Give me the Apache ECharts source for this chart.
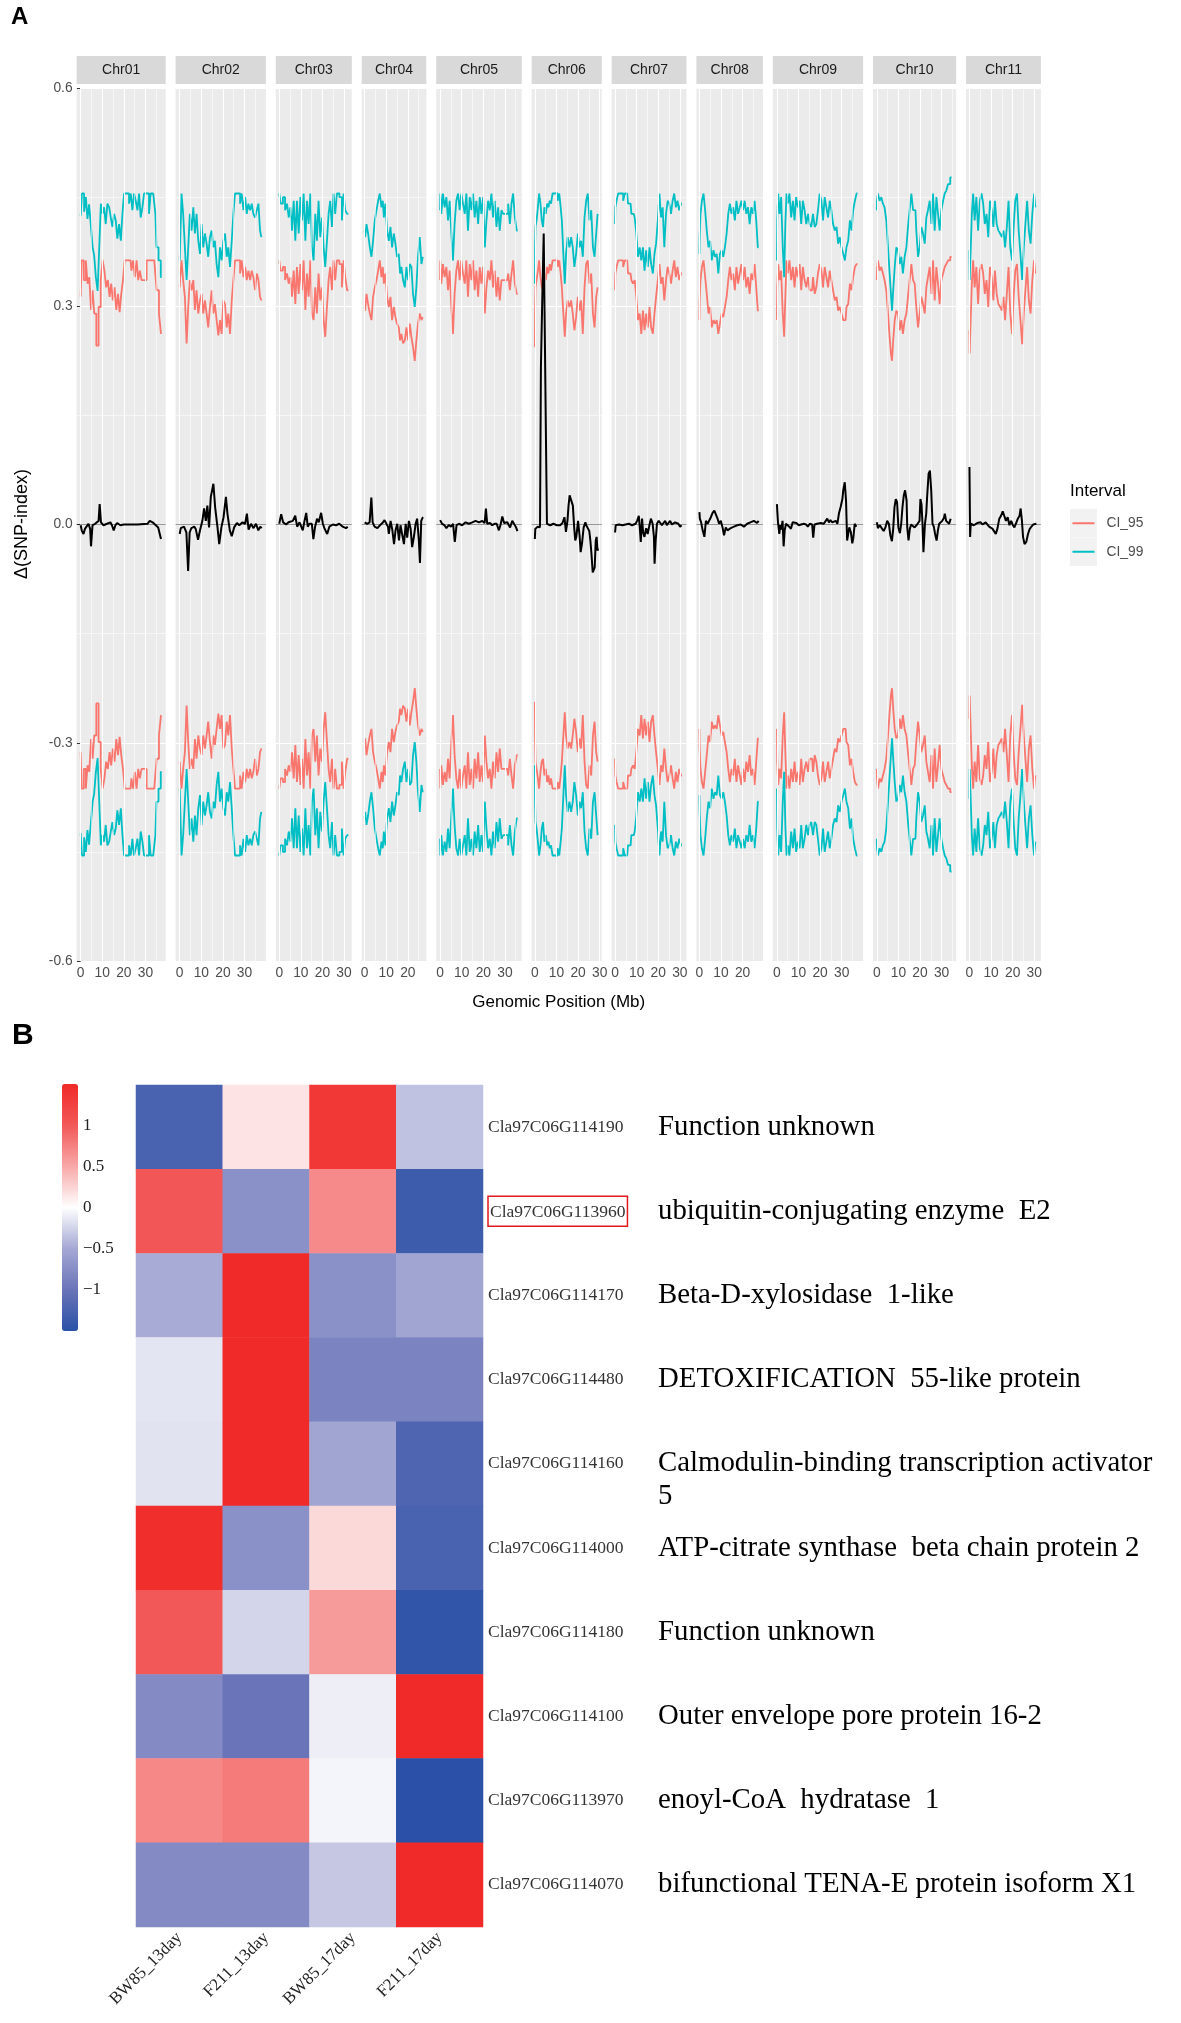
<!DOCTYPE html>
<html><head><meta charset="utf-8">
<script src="https://cdn.jsdelivr.net/npm/echarts@6/dist/echarts.min.js"></script>
<style>html,body{margin:0;padding:0;background:#fff}#c{width:1181px;height:2023px}</style>
</head><body><div id="c"></div><script>
// ---------------- Panel A data ----------------
const chrNames = ['Chr01','Chr02','Chr03','Chr04','Chr05','Chr06','Chr07','Chr08','Chr09','Chr10','Chr11'];
const chrLengths = [37.5,38,32,27.2,36,29.5,31.5,28,38,35,31.5];
const xMajorTicks = [0,10,20,30];
const xMinorTicks = [5,15,25,35];
const intervalNames = ['CI_95','CI_99'];

const deltaChr01 = [[0,-0.001],[0.5,-0.008],[1.3,-0.013],[2,-0.006],[2.8,-0.004],[3.6,0.001],[4.4,-0.006],[4.8,-0.03],[5.5,-0.001],[6.7,0.001],[7.5,0.003],[8.3,0.005],[8.8,0.028],[9.4,0.003],[10.6,-0.001],[12.2,0.001],[13.8,0.003],[14.5,-0.001],[15.3,-0.008],[16.1,-0.001],[16.9,0.002],[18.4,-0.001],[20,0],[26.3,0],[30.9,0.001],[32,0.005],[33.3,0.003],[34.8,-0.001],[35.9,-0.004],[37.2,-0.02]];
const deltaChr02 = [[0,-0.013],[0.5,-0.005],[2,-0.003],[3.1,-0.011],[3.9,-0.064],[4.6,-0.011],[5.4,-0.005],[6.7,-0.003],[7.4,-0.006],[8.5,-0.021],[9.4,-0.008],[10.5,0.005],[11.3,0.022],[12.1,0.005],[12.8,0.026],[13.6,-0.004],[14.4,0.038],[15.6,0.056],[16.4,0.024],[17.5,-0.004],[18.3,-0.027],[19.3,-0.004],[20.3,0.01],[21.4,0.038],[22.1,0.015],[23.2,-0.008],[24.1,-0.016],[25.2,-0.004],[26.5,0.002],[27.6,-0.001],[29.1,0.003],[30.3,0.001],[31.1,0.015],[31.9,-0.007],[33,0.001],[34.2,-0.005],[35.3,0.001],[36.4,-0.008],[37.3,-0.003],[38,-0.005]];
const deltaChr03 = [[0,0.001],[0.9,0.014],[1.8,0.003],[3.2,0],[4.3,0.003],[5.2,0.001],[6.3,0.005],[7.4,0.012],[8.3,-0.003],[9.4,0.003],[10.2,0.001],[10.9,-0.008],[11.7,0.005],[12.5,0.016],[13.2,-0.003],[14,0.001],[15.1,0.001],[15.8,-0.02],[16.6,-0.003],[17.5,0.008],[18.3,0.003],[19.4,0.016],[20.2,0.001],[20.9,-0.005],[22.2,-0.013],[23.2,-0.003],[24.8,0],[26.3,-0.001],[27.8,0.001],[29.4,-0.003],[30.9,-0.005],[31.7,-0.003]];
const deltaChr04 = [[0,0.003],[1.2,0.001],[2.3,0.003],[3.1,0.037],[3.7,0.003],[4.6,-0.003],[5.9,-0.005],[7.1,-0.001],[8.2,0.002],[9.2,0.006],[10,0.008],[10.8,-0.003],[11.2,-0.013],[12,0.005],[12.8,-0.007],[13.6,-0.027],[14.3,-0.008],[15.1,0.001],[15.9,-0.022],[16.6,-0.001],[17.4,-0.003],[18.2,-0.027],[19,0.001],[19.7,-0.018],[20.5,0.005],[21.3,-0.006],[22,-0.031],[22.8,-0.017],[23.6,0.001],[24.3,0.008],[25.1,-0.022],[25.6,-0.053],[26.2,0.005],[26.8,0.009],[27.1,0.01]];
const deltaChr05 = [[0,0.006],[0.9,0.001],[2,-0.001],[2.9,-0.005],[4,-0.001],[5.1,-0.003],[6,0.001],[6.8,-0.024],[7.6,-0.001],[8.7,0.001],[10.2,-0.001],[11.8,0.003],[13.3,0.001],[14.9,0.003],[16.4,0.005],[18,0.003],[19.5,0.005],[20.6,0.002],[21.2,0.022],[21.8,0.001],[23.1,0.002],[24.1,-0.001],[25.2,0.001],[26.2,0.001],[27.2,-0.008],[28,0],[28.8,0.011],[29.6,0.002],[31.1,0.003],[32.4,-0.004],[33.4,0.005],[34.2,0.003],[35,-0.003],[35.8,-0.009]];
const deltaChr06 = [[0,-0.02],[0.2,-0.006],[0.4,-0.007],[1.3,-0.003],[2.3,-0.004],[2.4,0],[2.8,0.215],[3.3,0.29],[4.1,0.4],[4.7,0.4],[5.4,0.05],[5.6,0.001],[6,0.001],[7.1,-0.001],[8.6,0.001],[10.2,-0.001],[11.7,-0.001],[12.8,0.002],[13.7,0.01],[14.4,-0.01],[15.1,0.005],[15.6,0.026],[16.1,0.04],[16.8,0.039],[17.6,0.026],[18.2,-0.004],[18.7,-0.022],[19.2,-0.017],[20,0.005],[20.7,-0.015],[21.2,-0.038],[21.8,-0.027],[22.6,-0.004],[23.4,0.003],[23.8,-0.001],[24.5,-0.005],[25.2,-0.009],[25.7,-0.022],[26.2,-0.04],[26.8,-0.066],[27.3,-0.068],[27.7,-0.059],[28.2,-0.022],[28.6,-0.017],[29,-0.036],[29.3,-0.033]];
const deltaChr07 = [[0,-0.011],[0.3,-0.001],[1.8,0],[3.4,-0.001],[4.9,0],[6.4,0.001],[7.9,-0.001],[9.5,0.001],[10.2,0.005],[11,0.012],[11.5,-0.006],[11.9,-0.024],[12.5,0.008],[13,-0.011],[13.6,-0.017],[14.4,-0.005],[15.1,-0.013],[15.9,-0.001],[16.6,0.008],[17.4,0.001],[18,-0.017],[18.3,-0.054],[18.8,-0.022],[19.4,0.001],[20.2,0.005],[20.9,0.006],[21.7,-0.001],[22.4,0.002],[23.2,0.005],[24,-0.001],[24.7,0.002],[25.5,0.005],[26.3,0],[27,0.001],[27.8,0.003],[28.5,0.004],[29.3,0.001],[30.1,-0.003],[30.8,-0.001]];
const deltaChr08 = [[0,0.017],[0.2,0.008],[0.8,0.003],[1.5,-0.008],[2.3,-0.017],[3,0.005],[3.8,0.001],[4.6,0.003],[5.3,0.01],[6.1,0.016],[6.9,0.019],[7.6,0.017],[8.4,0.008],[9.1,0.001],[9.9,0.005],[10.7,-0.004],[11.4,-0.015],[12.2,-0.004],[13,-0.008],[13.7,-0.006],[14.5,-0.005],[16,-0.003],[17.5,-0.001],[19.1,0],[20.6,-0.003],[22.1,0.001],[23.6,0.003],[25.2,0.005],[26.7,0.002],[27.4,0.005]];
const deltaChr09 = [[0,0.028],[0.2,0.017],[0.5,0.003],[1.1,-0.013],[1.6,-0.001],[2,-0.007],[2.6,0.005],[3.1,-0.03],[3.6,-0.008],[4.2,0.001],[5,0.003],[5.7,-0.003],[6.5,-0.006],[7.3,0.003],[8.1,0.001],[9,0.002],[10.1,-0.001],[11.2,0],[12.4,0.001],[13.5,0],[14.3,-0.003],[15.2,0.001],[16.3,0],[16.8,-0.018],[17.4,0],[18.6,0.001],[20.2,0.002],[21.7,0.001],[22.5,0.003],[23.3,0.008],[24.1,0.003],[24.8,0.006],[25.6,0.003],[26.4,0.001],[27.2,0.005],[28,0.001],[28.7,0.015],[29.5,0.024],[30.3,0.035],[30.7,0.047],[31.4,0.058],[32,0.033],[32.5,-0.022],[32.9,-0.015],[33.5,-0.004],[34.2,-0.01],[34.9,-0.026],[35.4,-0.018],[36,0.001],[36.8,-0.003]];
const deltaChr10 = [[0,0.003],[0.3,-0.001],[0.5,-0.005],[1.4,-0.001],[2.5,-0.006],[3.2,-0.009],[4,-0.004],[4.8,0.005],[5.6,0.001],[6.3,-0.015],[7,-0.023],[7.6,-0.006],[8.2,0.024],[8.8,0.035],[9.4,0.031],[10,-0.004],[10.7,-0.012],[11.3,0.001],[11.9,0.024],[12.5,0.04],[13.1,0.047],[13.8,0.033],[14.1,-0.004],[14.7,-0.022],[15.3,-0.006],[15.9,0],[16.8,-0.001],[17.5,-0.004],[18.4,-0.001],[19.2,0.001],[19.8,0.005],[20.2,0.035],[20.7,0.028],[21.2,-0.001],[21.6,-0.038],[22.3,0.001],[22.9,0.015],[23.3,0.038],[24,0.07],[24.6,0.074],[25.2,0.047],[25.8,0.001],[26.4,-0.003],[27,-0.013],[27.7,-0.022],[28.3,-0.008],[28.9,0.001],[29.5,0.002],[30.3,0.005],[31.1,0.009],[31.5,0.015],[32.1,0.005],[32.9,0.003],[33.5,0.001],[34.2,0.008]];
const deltaChr11 = [[0,0.079],[0.1,0.048],[0.2,0.047],[0.3,-0.017],[0.6,0.001],[1.3,0.003],[2,-0.001],[2.8,0.001],[3.6,0.002],[4.4,0],[5.2,0.003],[6,0],[6.7,0.002],[7.5,0.003],[8.3,0.005],[9.1,-0.003],[9.9,-0.005],[10.7,-0.006],[11.4,-0.008],[12.2,-0.013],[13,-0.005],[13.8,0.008],[14.6,0.012],[15.4,0.018],[16.1,0.012],[16.9,0.005],[17.7,0.01],[18.5,-0.001],[19.3,0.005],[20.1,-0.001],[20.8,-0.004],[21.6,0.002],[22.4,0.008],[23.2,0.012],[23.7,0.022],[24.3,0.005],[24.8,-0.017],[25.5,-0.027],[26.3,-0.024],[27.1,-0.013],[27.9,-0.006],[28.7,-0.003],[29.5,0],[30.3,-0.001],[31,0.001]];

const ci95Chr01 = [[0,0.313],[0.9,0.363],[2,0.336],[2.8,0.363],[3.6,0.331],[4.4,0.34],[5.2,0.295],[5.9,0.322],[6.7,0.29],[7.8,0.246],[8.8,0.299],[9.8,0.336],[10.6,0.363],[11.4,0.349],[12.2,0.326],[13,0.336],[13.8,0.313],[14.5,0.331],[15.3,0.308],[16.1,0.326],[16.9,0.295],[17.7,0.317],[18.4,0.292],[19.2,0.317],[20,0.336],[20.8,0.363],[23.1,0.363],[23.9,0.349],[24.7,0.363],[25.5,0.34],[26.3,0.363],[27,0.336],[27.8,0.349],[28.6,0.336],[30.2,0.336],[30.9,0.363],[34.1,0.363],[34.8,0.349],[35.6,0.322],[36.9,0.29],[37.5,0.262]];
const ci95Chr02 = [[0,0.326],[0.5,0.34],[1.2,0.363],[2,0.336],[2.8,0.313],[3.6,0.249],[4.3,0.299],[5.1,0.336],[5.9,0.322],[6.7,0.336],[7.4,0.295],[8.2,0.322],[9,0.29],[9.8,0.308],[10.5,0.317],[11.3,0.29],[12.1,0.308],[12.8,0.29],[13.6,0.271],[14.4,0.299],[15.2,0.322],[15.9,0.29],[16.7,0.303],[17.5,0.281],[18.3,0.26],[19,0.281],[19.8,0.262],[20.6,0.308],[21.4,0.303],[22.1,0.271],[22.9,0.29],[23.7,0.262],[24.5,0.308],[25.2,0.336],[26,0.363],[27.6,0.363],[28.3,0.345],[29.1,0.363],[29.9,0.34],[30.7,0.354],[31.4,0.336],[32.2,0.349],[33,0.336],[33.7,0.349],[34.5,0.34],[35.3,0.322],[36.1,0.345],[36.8,0.336],[37.6,0.313],[38,0.308]];
const ci95Chr03 = [[0,0.363],[1.2,0.349],[2.2,0.354],[3.2,0.336],[4,0.345],[4.8,0.331],[5.5,0.34],[6.3,0.313],[7.1,0.349],[7.8,0.303],[8.6,0.354],[9.4,0.317],[10.2,0.358],[10.9,0.322],[11.7,0.363],[12.5,0.295],[13.2,0.345],[14,0.313],[14.8,0.363],[15.5,0.29],[16.3,0.281],[17.1,0.326],[17.8,0.29],[18.6,0.345],[19.4,0.308],[20.2,0.326],[20.9,0.281],[21.7,0.258],[22.5,0.299],[23.2,0.336],[24,0.354],[24.8,0.322],[25.5,0.363],[26.3,0.336],[27.1,0.363],[28.6,0.358],[29.4,0.326],[30.2,0.363],[30.9,0.34],[32,0.322]];
const ci95Chr04 = [[0,0.299],[0.5,0.294],[1.2,0.317],[2,0.303],[2.8,0.29],[3.5,0.281],[4.3,0.313],[5.1,0.326],[5.9,0.336],[6.6,0.349],[7.4,0.363],[8.2,0.34],[8.6,0.354],[9.2,0.331],[10,0.345],[10.8,0.313],[11.6,0.299],[12.3,0.313],[13.1,0.281],[13.9,0.299],[14.6,0.285],[15.4,0.276],[16.2,0.271],[16.6,0.253],[17.4,0.262],[18.2,0.249],[19,0.253],[19.7,0.271],[20.5,0.253],[21.3,0.276],[22,0.258],[22.8,0.244],[23.6,0.225],[24.3,0.253],[25.1,0.276],[25.9,0.29],[26.7,0.281],[27.1,0.285]];
const ci95Chr05 = [[0,0.336],[0.2,0.363],[0.9,0.331],[1.7,0.358],[2.5,0.34],[3.3,0.354],[4,0.322],[4.8,0.349],[5.6,0.299],[6.3,0.262],[7.1,0.317],[7.9,0.349],[8.7,0.363],[9.4,0.336],[10.2,0.363],[11,0.345],[11.8,0.331],[12.5,0.363],[13.3,0.313],[14.1,0.358],[14.9,0.336],[15.6,0.363],[16.4,0.322],[17.2,0.349],[18,0.313],[18.7,0.354],[19.5,0.331],[20.3,0.354],[21.1,0.29],[21.8,0.326],[22.6,0.349],[23.4,0.336],[24.1,0.363],[24.9,0.326],[25.7,0.349],[26.5,0.313],[27.2,0.34],[28,0.308],[28.8,0.336],[29.6,0.336],[31.1,0.336],[31.9,0.345],[32.7,0.322],[33.4,0.345],[34.2,0.363],[35,0.331],[35.9,0.317]];
const ci95Chr06 = [[0,0.244],[0.2,0.29],[0.4,0.326],[1.2,0.336],[1.6,0.349],[2.3,0.363],[2.9,0.34],[3.5,0.326],[4.1,0.322],[4.7,0.345],[5.4,0.336],[6,0.354],[6.6,0.345],[7.2,0.358],[7.8,0.349],[8.6,0.363],[10.2,0.363],[10.9,0.354],[11.7,0.363],[12.2,0.345],[12.8,0.326],[13.6,0.29],[14.1,0.258],[14.8,0.29],[15.6,0.308],[16.4,0.299],[17.2,0.308],[17.9,0.29],[18.7,0.267],[19.5,0.285],[20.3,0.313],[21,0.294],[21.8,0.308],[22.6,0.262],[23.4,0.326],[24.1,0.358],[24.9,0.363],[25.7,0.331],[26.5,0.345],[27.3,0.29],[28,0.271],[28.8,0.313],[29.3,0.326]];
const ci95Chr07 = [[0,0.322],[0.3,0.345],[1.1,0.354],[1.8,0.363],[3.4,0.363],[4.1,0.354],[4.9,0.363],[5.6,0.363],[6.4,0.345],[7.2,0.345],[7.9,0.336],[8.7,0.331],[9.5,0.336],[10.2,0.313],[11,0.281],[11.8,0.29],[12.5,0.262],[13.3,0.294],[14,0.267],[14.8,0.29],[15.6,0.271],[16.3,0.299],[17.1,0.271],[17.9,0.262],[18.6,0.29],[19.4,0.313],[20.2,0.336],[20.9,0.358],[21.7,0.331],[22.4,0.34],[23.2,0.308],[24,0.336],[24.7,0.354],[25.5,0.345],[26.3,0.331],[27,0.349],[27.8,0.363],[28.5,0.34],[29.3,0.354],[30.1,0.336],[31,0.345]];
const ci95Chr08 = [[0,0.281],[0.2,0.308],[0.8,0.336],[1.5,0.354],[2.3,0.363],[3,0.34],[3.8,0.317],[4.6,0.29],[5.3,0.299],[6.1,0.271],[6.9,0.281],[7.6,0.276],[8.4,0.281],[9.1,0.262],[9.9,0.276],[10.7,0.29],[11.4,0.285],[12.2,0.299],[13,0.313],[13.7,0.336],[14.5,0.354],[15.2,0.336],[16,0.345],[16.8,0.322],[17.5,0.354],[18.3,0.331],[19.1,0.345],[19.8,0.358],[20.6,0.336],[21.3,0.354],[22.1,0.326],[22.9,0.34],[23.6,0.317],[24.4,0.345],[25.2,0.336],[25.9,0.358],[26.7,0.326],[27.4,0.294]];
const ci95Chr09 = [[0,0.281],[0.3,0.326],[0.9,0.358],[1.6,0.336],[2.3,0.349],[3.1,0.29],[3.6,0.258],[4.2,0.313],[4.7,0.363],[5.4,0.345],[6.2,0.363],[7,0.336],[7.8,0.354],[8.5,0.326],[9.3,0.354],[10.1,0.34],[10.9,0.358],[11.6,0.322],[12.4,0.354],[13.2,0.336],[14,0.326],[14.8,0.34],[15.5,0.322],[16.3,0.322],[17.1,0.34],[17.9,0.317],[18.6,0.326],[19.4,0.345],[20.2,0.358],[21,0.349],[21.7,0.326],[22.5,0.354],[23.3,0.34],[24.1,0.326],[24.8,0.349],[25.6,0.336],[26.4,0.322],[27.2,0.308],[28,0.313],[28.7,0.294],[29.5,0.299],[30.3,0.29],[31.1,0.281],[31.8,0.281],[32.6,0.299],[33.4,0.303],[34.2,0.331],[34.9,0.322],[35.7,0.34],[36.5,0.354],[37.3,0.358]];
const ci95Chr10 = [[0,0.336],[0.2,0.349],[0.9,0.363],[1.7,0.349],[2.5,0.354],[3.2,0.345],[4,0.336],[4.8,0.322],[5.6,0.29],[6.3,0.258],[6.8,0.235],[7.3,0.225],[7.9,0.253],[8.7,0.281],[9.4,0.294],[10.2,0.29],[11,0.267],[11.7,0.281],[12.5,0.262],[13.3,0.281],[14.1,0.29],[14.8,0.313],[15.6,0.336],[16.4,0.358],[17.2,0.336],[17.9,0.331],[18.7,0.299],[19.5,0.271],[20.2,0.29],[21,0.313],[21.8,0.303],[22.6,0.29],[23.3,0.326],[24.1,0.34],[24.9,0.354],[25.7,0.317],[26.4,0.363],[27.2,0.308],[28,0.354],[28.7,0.331],[29.5,0.303],[30.3,0.336],[31.1,0.345],[31.8,0.354],[32.6,0.358],[33.4,0.363],[34.6,0.368]];
const ci95Chr11 = [[0,0.267],[0.2,0.235],[0.8,0.276],[1.4,0.331],[2,0.363],[2.8,0.326],[3.6,0.354],[4.4,0.303],[5.2,0.349],[6,0.358],[6.7,0.345],[7.5,0.317],[8.3,0.336],[9.1,0.299],[9.9,0.354],[10.7,0.34],[11.4,0.308],[12.2,0.349],[13,0.317],[13.8,0.303],[14.6,0.299],[15.4,0.294],[16.1,0.313],[16.9,0.281],[17.7,0.317],[18.5,0.354],[19.3,0.29],[20.1,0.262],[20.8,0.313],[21.6,0.349],[22.4,0.358],[23.2,0.313],[24,0.281],[24.8,0.248],[25.5,0.29],[26.3,0.322],[27.1,0.354],[27.9,0.308],[28.7,0.29],[29.5,0.336],[30.3,0.363],[30.7,0.345]];

const ci99Chr01 = [[0,0.424],[1.2,0.455],[2,0.43],[2.8,0.45],[3.5,0.42],[4.3,0.44],[5.2,0.41],[5.9,0.381],[6.6,0.37],[7.5,0.34],[8.2,0.321],[9,0.38],[9.7,0.441],[10.5,0.427],[11.2,0.436],[12,0.413],[12.8,0.441],[13.6,0.436],[14.3,0.422],[15.1,0.409],[15.9,0.427],[16.6,0.418],[17.4,0.393],[18.2,0.413],[19,0.39],[19.7,0.427],[20.5,0.455],[22,0.455],[22.8,0.441],[23.6,0.455],[24.3,0.432],[25.1,0.455],[25.9,0.445],[26.7,0.432],[27.4,0.455],[28.2,0.422],[29,0.436],[29.7,0.455],[31.3,0.455],[32,0.427],[32.8,0.455],[34.4,0.455],[34.8,0.427],[35.4,0.381],[36.7,0.363],[37.5,0.34]];
const ci99Chr02 = [[0,0.363],[0.5,0.39],[1.2,0.455],[2,0.427],[2.8,0.381],[3.6,0.336],[4.3,0.381],[5.1,0.427],[5.9,0.404],[6.7,0.436],[7.4,0.4],[8.2,0.427],[9,0.39],[9.8,0.372],[10.5,0.413],[11.3,0.381],[12.1,0.4],[12.8,0.386],[13.6,0.368],[14.4,0.395],[15.2,0.404],[15.9,0.381],[16.7,0.39],[17.5,0.358],[18.3,0.34],[19,0.381],[19.8,0.363],[20.6,0.39],[21.4,0.4],[22.1,0.368],[22.9,0.381],[23.7,0.354],[24.5,0.39],[25.2,0.427],[26,0.455],[27.6,0.455],[28.3,0.441],[29.1,0.455],[29.9,0.432],[30.7,0.45],[31.4,0.427],[32.2,0.441],[33,0.432],[33.7,0.441],[34.5,0.427],[35.3,0.422],[36.1,0.432],[36.8,0.441],[37.6,0.404],[38,0.395]];
const ci99Chr03 = [[0,0.455],[1.2,0.441],[2.2,0.45],[3.2,0.432],[4,0.441],[4.8,0.422],[5.5,0.436],[6.3,0.404],[7.1,0.445],[7.8,0.39],[8.6,0.445],[9.4,0.4],[10.2,0.45],[10.9,0.418],[11.7,0.455],[12.5,0.39],[13.2,0.445],[14,0.413],[14.8,0.455],[15.5,0.381],[16.3,0.363],[17.1,0.427],[17.8,0.39],[18.6,0.445],[19.4,0.395],[20.2,0.422],[20.9,0.381],[21.7,0.354],[22.5,0.39],[23.2,0.427],[24,0.445],[24.8,0.409],[25.5,0.455],[26.3,0.427],[27.1,0.455],[28.6,0.45],[29.4,0.418],[30.2,0.455],[30.9,0.432],[32,0.427]];
const ci99Chr04 = [[0,0.404],[0.5,0.395],[1.2,0.413],[2,0.4],[2.8,0.381],[3.5,0.368],[4.3,0.39],[5.1,0.418],[5.9,0.432],[6.6,0.445],[7.4,0.455],[8.2,0.436],[8.6,0.445],[9.2,0.422],[10,0.441],[10.8,0.404],[11.6,0.39],[12.3,0.409],[13.1,0.381],[13.9,0.4],[14.6,0.386],[15.4,0.368],[16.2,0.372],[16.6,0.345],[17.4,0.354],[18.2,0.336],[19,0.326],[19.7,0.354],[20.5,0.336],[21.3,0.358],[22,0.354],[22.8,0.317],[23.6,0.299],[24.3,0.326],[25.1,0.368],[25.9,0.395],[26.7,0.358],[27.1,0.368]];
const ci99Chr05 = [[0,0.432],[0.2,0.455],[0.9,0.427],[1.7,0.455],[2.5,0.436],[3.3,0.45],[4,0.418],[4.8,0.445],[5.6,0.4],[6.3,0.363],[7.1,0.413],[7.9,0.445],[8.7,0.455],[9.4,0.432],[10.2,0.455],[11,0.441],[11.8,0.427],[12.5,0.455],[13.3,0.404],[14.1,0.45],[14.9,0.432],[15.6,0.455],[16.4,0.422],[17.2,0.445],[18,0.413],[18.7,0.45],[19.5,0.427],[20.3,0.45],[21.1,0.381],[21.8,0.418],[22.6,0.445],[23.4,0.432],[24.1,0.455],[24.9,0.422],[25.7,0.445],[26.5,0.409],[27.2,0.436],[28,0.404],[28.8,0.432],[29.6,0.427],[31.1,0.427],[31.9,0.441],[32.7,0.413],[33.4,0.441],[34.2,0.455],[35,0.422],[35.9,0.404]];
const ci99Chr06 = [[0,0.331],[0.2,0.381],[0.4,0.409],[1.2,0.418],[1.6,0.436],[2.3,0.455],[2.9,0.441],[3.5,0.418],[4.1,0.409],[4.7,0.436],[5.4,0.427],[6,0.441],[6.6,0.436],[7.2,0.445],[7.8,0.441],[8.6,0.455],[10.2,0.455],[10.9,0.445],[11.7,0.455],[12.2,0.436],[12.8,0.418],[13.6,0.372],[14.1,0.331],[14.8,0.372],[15.6,0.395],[16.4,0.381],[17.2,0.395],[17.9,0.381],[18.7,0.354],[19.5,0.372],[20.3,0.4],[21,0.381],[21.8,0.39],[22.6,0.368],[23.4,0.422],[24.1,0.445],[24.9,0.455],[25.7,0.418],[26.5,0.432],[27.3,0.381],[28,0.368],[28.8,0.4],[29.3,0.427]];
const ci99Chr07 = [[0,0.413],[0.3,0.436],[1.1,0.445],[1.8,0.455],[3.4,0.455],[4.1,0.445],[4.9,0.455],[5.6,0.455],[6.4,0.441],[7.2,0.441],[7.9,0.427],[8.7,0.427],[9.5,0.422],[10.2,0.4],[11,0.368],[11.8,0.381],[12.5,0.363],[13.3,0.381],[14,0.349],[14.8,0.377],[15.6,0.354],[16.3,0.381],[17.1,0.358],[17.9,0.345],[18.6,0.372],[19.4,0.386],[20.2,0.418],[20.9,0.455],[21.7,0.422],[22.4,0.436],[23.2,0.381],[24,0.427],[24.7,0.445],[25.5,0.441],[26.3,0.427],[27,0.445],[27.8,0.455],[28.5,0.436],[29.3,0.445],[30.1,0.432],[31,0.441]];
const ci99Chr08 = [[0,0.372],[0.2,0.395],[0.8,0.427],[1.5,0.445],[2.3,0.455],[3,0.432],[3.8,0.404],[4.6,0.381],[5.3,0.39],[6.1,0.363],[6.9,0.377],[7.6,0.368],[8.4,0.372],[9.1,0.345],[9.9,0.372],[10.7,0.377],[11.4,0.368],[12.2,0.381],[13,0.4],[13.7,0.427],[14.5,0.441],[15.2,0.427],[16,0.436],[16.8,0.418],[17.5,0.445],[18.3,0.427],[19.1,0.436],[19.8,0.445],[20.6,0.432],[21.3,0.445],[22.1,0.427],[22.9,0.436],[23.6,0.413],[24.4,0.436],[25.2,0.427],[25.9,0.445],[26.7,0.418],[27.4,0.381]];
const ci99Chr09 = [[0,0.363],[0.3,0.418],[0.9,0.455],[1.6,0.427],[2.3,0.45],[3.1,0.381],[3.6,0.34],[4.2,0.413],[4.7,0.455],[5.4,0.441],[6.2,0.455],[7,0.422],[7.8,0.445],[8.5,0.418],[9.3,0.45],[10.1,0.436],[10.9,0.445],[11.6,0.413],[12.4,0.445],[13.2,0.432],[14,0.413],[14.8,0.427],[15.5,0.413],[16.3,0.409],[17.1,0.427],[17.9,0.409],[18.6,0.413],[19.4,0.432],[20.2,0.455],[21,0.445],[21.7,0.418],[22.5,0.45],[23.3,0.436],[24.1,0.422],[24.8,0.445],[25.6,0.432],[26.4,0.413],[27.2,0.404],[28,0.409],[28.7,0.386],[29.5,0.395],[30.3,0.381],[31.1,0.372],[31.8,0.363],[32.6,0.381],[33.4,0.39],[34.2,0.418],[34.9,0.404],[35.7,0.432],[36.5,0.445],[37.3,0.455]];
const ci99Chr10 = [[0,0.432],[0.2,0.445],[0.9,0.455],[1.7,0.445],[2.5,0.45],[3.2,0.441],[4,0.436],[4.8,0.418],[5.6,0.381],[6.3,0.345],[6.8,0.317],[7.3,0.294],[7.9,0.322],[8.7,0.354],[9.4,0.381],[10.2,0.377],[11,0.358],[11.7,0.368],[12.5,0.345],[13.3,0.368],[14.1,0.381],[14.8,0.409],[15.6,0.432],[16.4,0.455],[17.2,0.432],[17.9,0.432],[18.7,0.404],[19.5,0.368],[20.2,0.381],[21,0.409],[21.8,0.4],[22.6,0.386],[23.3,0.422],[24.1,0.432],[24.9,0.445],[25.7,0.413],[26.4,0.455],[27.2,0.404],[28,0.45],[28.7,0.427],[29.5,0.404],[30.3,0.432],[31.1,0.445],[31.8,0.455],[32.6,0.459],[33.4,0.468],[34.6,0.477]];
const ci99Chr11 = [[0,0.377],[0.2,0.336],[0.8,0.372],[1.4,0.427],[2,0.455],[2.8,0.418],[3.6,0.45],[4.4,0.404],[5.2,0.445],[6,0.455],[6.7,0.441],[7.5,0.413],[8.3,0.427],[9.1,0.395],[9.9,0.445],[10.7,0.432],[11.4,0.409],[12.2,0.445],[13,0.413],[13.8,0.404],[14.6,0.4],[15.4,0.395],[16.1,0.404],[16.9,0.381],[17.7,0.409],[18.5,0.445],[19.3,0.381],[20.1,0.363],[20.8,0.409],[21.6,0.445],[22.4,0.455],[23.2,0.404],[24,0.372],[24.8,0.336],[25.5,0.381],[26.3,0.413],[27.1,0.445],[27.9,0.404],[28.7,0.386],[29.5,0.427],[30.3,0.455],[30.7,0.436]];

// ---------------- Panel B data ----------------
const hmColumns = ['BW85_13day','F211_13day','BW85_17day','F211_17day'];
const hmGenes = ['Cla97C06G114190','Cla97C06G113960','Cla97C06G114170','Cla97C06G114480','Cla97C06G114160','Cla97C06G114000','Cla97C06G114180','Cla97C06G114100','Cla97C06G113970','Cla97C06G114070'];
const hmFunctions = ['Function unknown','ubiquitin-conjugating enzyme  E2','Beta-D-xylosidase  1-like','DETOXIFICATION  55-like protein','Calmodulin-binding transcription activator\n5','ATP-citrate synthase  beta chain protein 2','Function unknown','Outer envelope pore protein 16-2','enoyl-CoA  hydratase  1','bifunctional TENA-E protein isoform X1'];
const hmValues = [
  [-1.25, 0.16, 1.35, -0.35],
  [1.02, -0.72, 0.69, -1.35],
  [-0.48, 1.5, -0.72, -0.53],
  [-0.15, 1.5, -0.85, -0.85],
  [-0.16, 1.5, -0.53, -1.21],
  [1.45, -0.72, 0.22, -1.25],
  [1.0, -0.24, 0.59, -1.45],
  [-0.78, -1.0, -0.1, 1.5],
  [0.7, 0.79, -0.06, -1.5],
  [-0.78, -0.78, -0.32, 1.5]
];
const highlightedGene = 'Cla97C06G113960';
const colorbarTicks = [-1, -0.5, 0, 0.5, 1];

// ---------------- build ----------------
const SANS = '"Liberation Sans", Arial, Helvetica, sans-serif';
const SERIF = '"Liberation Serif", "Times New Roman", Times, serif';
const deltaByChr = [deltaChr01,deltaChr02,deltaChr03,deltaChr04,deltaChr05,deltaChr06,deltaChr07,deltaChr08,deltaChr09,deltaChr10,deltaChr11];
const ci95ByChr = [ci95Chr01,ci95Chr02,ci95Chr03,ci95Chr04,ci95Chr05,ci95Chr06,ci95Chr07,ci95Chr08,ci95Chr09,ci95Chr10,ci95Chr11];
const ci99ByChr = [ci99Chr01,ci99Chr02,ci99Chr03,ci99Chr04,ci99Chr05,ci99Chr06,ci99Chr07,ci99Chr08,ci99Chr09,ci99Chr10,ci99Chr11];

const panelLeft = 76.6, panelRight = 1040.9, panelGap = 9.9, panelTop = 88, panelHeight = 873;
const spans = chrLengths.map(L => 1.1 * L);
const kPx = (panelRight - panelLeft - panelGap * (chrLengths.length - 1)) / spans.reduce((a, b) => a + b, 0);
let cursor = panelLeft;
const panelX = spans.map(s => { const x = cursor; cursor += s * kPx + panelGap; return x; });
const panelW = spans.map(s => s * kPx);

const grids = [], xAxes = [], yAxes = [], series = [], graphics = [];
const COL95 = '#F8766D', COL99 = '#00BFC4';

chrNames.forEach((name, i) => {
  const L = chrLengths[i];
  const lo = -0.05 * L, hi = 1.05 * L;
  const majors = xMajorTicks.filter(v => v <= hi);
  const minors = xMinorTicks.filter(v => v <= hi);
  grids.push({left: panelX[i], top: panelTop, width: panelW[i], height: panelHeight, show: true, backgroundColor: '#EBEBEB', borderWidth: 0});
  xAxes.push({gridIndex: i, type: 'value', min: lo, max: hi,
    axisLine: {show: false},
    axisTick: {show: true, length: 3.7, lineStyle: {color: '#333', width: 1}, customValues: majors},
    axisLabel: {customValues: majors, margin: 5, fontSize: 13.8, color: '#4D4D4D', fontFamily: SANS},
    splitLine: {show: false}});
  yAxes.push({gridIndex: i, type: 'value', min: -0.6, max: 0.6, interval: 0.3,
    axisLine: {show: false},
    axisTick: {show: i === 0, length: 3.7, lineStyle: {color: '#333', width: 1}},
    axisLabel: {show: i === 0, margin: 4, fontSize: 13.8, color: '#4D4D4D', fontFamily: SANS, formatter: v => v.toFixed(1)},
    splitLine: {show: true, lineStyle: {color: '#FFFFFF', width: 1.1}},
    minorTick: {show: false, splitNumber: 2},
    minorSplitLine: {show: true, lineStyle: {color: '#FFFFFF', width: 0.55}}});
  series.push({type: 'line', name: 'grid' + i, xAxisIndex: i, yAxisIndex: i, data: [[0, 0]], showSymbol: false, symbol: 'none',
    lineStyle: {opacity: 0}, silent: true, z: 1,
    markLine: {silent: true, symbol: ['none', 'none'], label: {show: false}, animation: false,
      data: majors.map(v => ({xAxis: v, lineStyle: {color: '#FFFFFF', width: 1.1, type: 'solid'}}))
        .concat(minors.map(v => ({xAxis: v, lineStyle: {color: '#FFFFFF', width: 0.55, type: 'solid'}})))
        .concat([{yAxis: 0, lineStyle: {color: 'rgba(0,0,0,0.4)', width: 1, type: 'solid'}}])}});
  const mk = (nm, data, col, z) => ({type: 'line', name: nm, xAxisIndex: i, yAxisIndex: i, data: data, symbol: 'none', showSymbol: false,
    step: 'middle', lineStyle: {color: col, width: 1.8}, itemStyle: {color: col}, z: z, silent: true});
  series.push(mk(intervalNames[0], ci95ByChr[i], COL95, 3));
  series.push(mk(intervalNames[0], ci95ByChr[i].map(p => [p[0], -p[1]]), COL95, 3));
  series.push(mk(intervalNames[1], ci99ByChr[i], COL99, 4));
  series.push(mk(intervalNames[1], ci99ByChr[i].map(p => [p[0], -p[1]]), COL99, 4));
  series.push({type: 'line', name: 'deltaSNP', xAxisIndex: i, yAxisIndex: i, data: deltaByChr[i], symbol: 'none', showSymbol: false,
    lineStyle: {color: '#000', width: 2}, itemStyle: {color: '#000'}, z: 5, silent: true});
  graphics.push({type: 'rect', shape: {x: panelX[i], y: 56, width: panelW[i], height: 28}, style: {fill: '#D9D9D9'}, z: 0});
  graphics.push({type: 'text', x: panelX[i] + panelW[i] / 2, y: 70,
    style: {text: name, align: 'center', verticalAlign: 'middle', fontSize: 14, fontFamily: SANS, fill: '#1A1A1A'}});
});

// heatmap
const HG = chrNames.length;
grids.push({left: 136, top: 1085, width: 347, height: 842});
xAxes.push({gridIndex: HG, type: 'category', data: hmColumns, position: 'bottom',
  axisLine: {show: false}, axisTick: {show: false}, splitLine: {show: false},
  axisLabel: {interval: 0, rotate: 45, margin: 8, fontSize: 17, fontFamily: SERIF, color: '#222'}});
yAxes.push({gridIndex: HG, type: 'category', data: hmGenes, inverse: true, position: 'right',
  axisLine: {show: false}, axisTick: {show: false}, splitLine: {show: false},
  axisLabel: {interval: 0, margin: 5, fontSize: 17.5, fontFamily: SERIF, color: '#333',
    formatter: v => v === highlightedGene ? '{box|' + v + '}' : v,
    rich: {box: {borderColor: '#E0191E', borderWidth: 1.5, padding: [7, 2, 5, 2], fontSize: 17.5, fontFamily: SERIF, color: '#333'}}}});
yAxes.push({gridIndex: HG, type: 'category', data: hmFunctions, inverse: true, position: 'right', offset: 170,
  axisLine: {show: false}, axisTick: {show: false}, splitLine: {show: false},
  axisLabel: {interval: 0, margin: 5, fontSize: 28.8, lineHeight: 33, fontFamily: SERIF, color: '#000',
    formatter: v => v.indexOf('\n') >= 0 ? '\n' + v : v}});
const hmData = [];
hmValues.forEach((row, r) => row.forEach((v, c) => hmData.push([c, r, v])));
const heatIndex = series.length;
series.push({type: 'heatmap', xAxisIndex: HG, yAxisIndex: HG, data: hmData, silent: true, itemStyle: {borderWidth: 0}, progressive: 0});

// colorbar tick axis
const CG = HG + 1;
grids.push({left: 62, top: 1084, width: 16, height: 247});
xAxes.push({gridIndex: CG, type: 'value', show: false, min: 0, max: 1});
yAxes.push({gridIndex: CG, type: 'value', min: -1.5, max: 1.5, position: 'right',
  axisLine: {show: false}, axisTick: {show: false}, splitLine: {show: false},
  axisLabel: {customValues: colorbarTicks, margin: 5, fontSize: 17, fontFamily: SERIF, color: '#222',
    formatter: v => (v < 0 ? '\u2212' : '') + String(Math.abs(v))}});

graphics.push({type: 'text', x: 11, y: 5, style: {text: 'A', fontSize: 24, fontWeight: 'bold', fontFamily: SANS, fill: '#000', verticalAlign: 'top'}});
graphics.push({type: 'text', x: 12, y: 1021, style: {text: 'B', fontSize: 30, fontWeight: 'bold', fontFamily: SANS, fill: '#000', verticalAlign: 'top'}});
graphics.push({type: 'text', x: 22, y: 524, rotation: Math.PI / 2,
  style: {text: '\u0394(SNP-index)', align: 'center', verticalAlign: 'middle', fontSize: 18, fontFamily: SANS, fill: '#000'}});
graphics.push({type: 'text', x: (panelLeft + panelRight) / 2, y: 1002,
  style: {text: 'Genomic Position (Mb)', align: 'center', verticalAlign: 'middle', fontSize: 17, fontFamily: SANS, fill: '#000'}});
graphics.push({type: 'text', x: 1070, y: 491,
  style: {text: 'Interval', align: 'left', verticalAlign: 'middle', fontSize: 17, fontFamily: SANS, fill: '#000'}});
graphics.push({type: 'rect', shape: {x: 1070, y: 509, width: 27, height: 28.5}, style: {fill: '#F2F2F2'}, z: 0});
graphics.push({type: 'rect', shape: {x: 1070, y: 537.5, width: 27, height: 28.5}, style: {fill: '#F2F2F2'}, z: 0});

const option = {
  animation: false,
  backgroundColor: '#FFFFFF',
  grid: grids, xAxis: xAxes, yAxis: yAxes, series: series,
  legend: {data: intervalNames, orient: 'vertical', left: 1072.5, top: 509, padding: 0, itemGap: 0,
    itemWidth: 22, itemHeight: 2, icon: 'rect', selectedMode: false, z: 10,
    textStyle: {fontSize: 13.8, color: '#4D4D4D', fontFamily: SANS, lineHeight: 28.5, padding: [0, 0, 0, 7]}},
  visualMap: {type: 'continuous', seriesIndex: heatIndex, min: -1.5, max: 1.5, show: true, calculable: false,
    orient: 'vertical', left: 62, top: 1084, itemWidth: 16, itemHeight: 247, padding: 0, text: null,
    inRange: {color: ['#2A51A7', '#6A74B8', '#A4A8D4', '#FFFFFF', '#F8A8A8', '#F25858', '#F02A28']}},
  graphic: {elements: graphics}
};
const chart = echarts.init(document.getElementById('c'), null, {renderer: 'canvas'});
chart.setOption(option);
</script></body></html>
